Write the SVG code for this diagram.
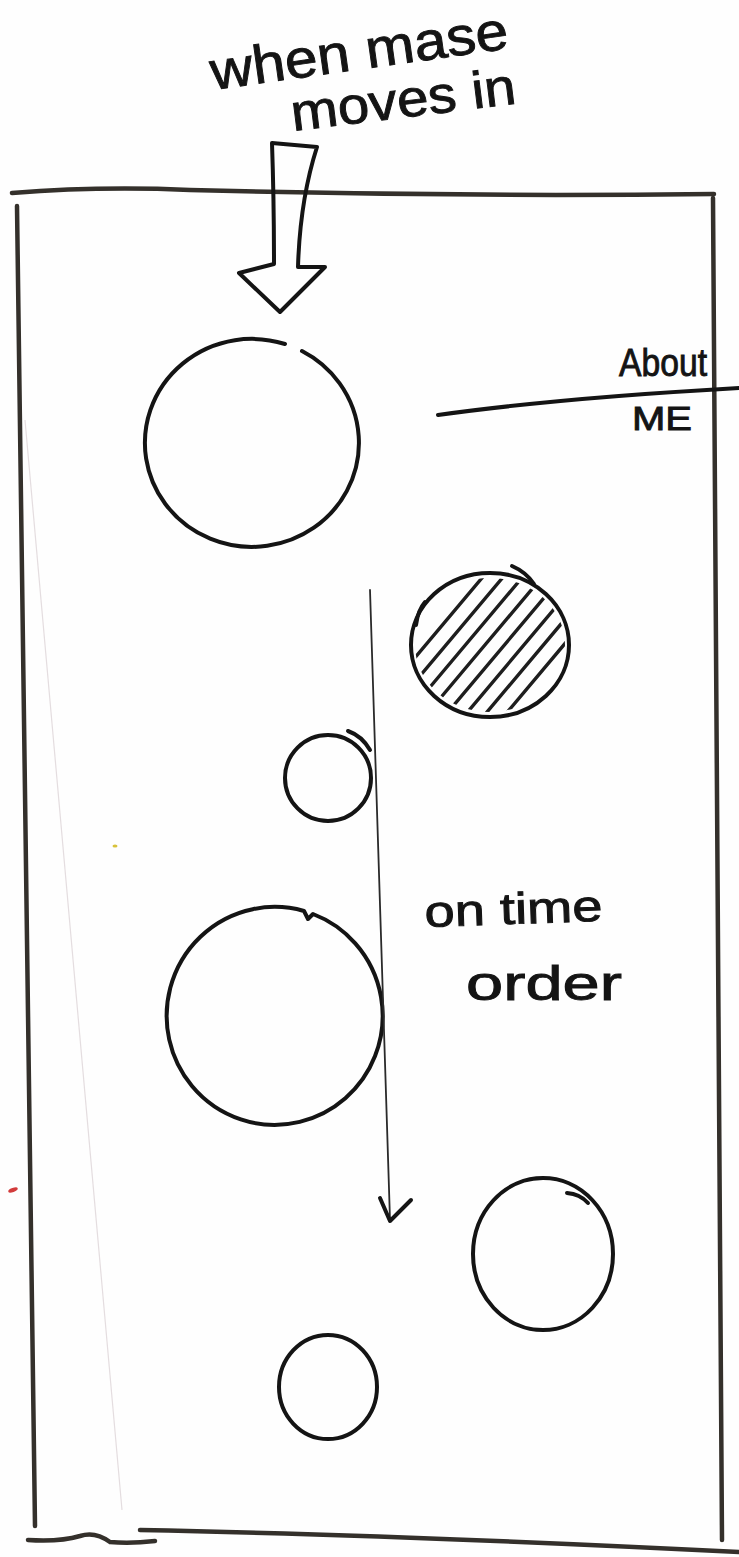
<svg xmlns="http://www.w3.org/2000/svg" width="739" height="1557" viewBox="0 0 739 1557">
  <defs>
    <style>
      .ink { fill: none; stroke: #141414; stroke-width: 4; stroke-linecap: round; stroke-linejoin: round; }
      .frame { fill: none; stroke: #34302b; stroke-width: 4.5; stroke-linecap: round; }
      .thin { fill: none; stroke: #2a2a2a; stroke-width: 1.8; stroke-linecap: round; }
      .hatch { stroke: #1e1e1e; stroke-width: 3.4; stroke-linecap: round; }
      .hand { font-family: "Liberation Sans", "DejaVu Sans", sans-serif; fill: #141414; stroke: #141414; stroke-width: 0.9; }
    </style>
    <clipPath id="hatchClip">
      <ellipse cx="490" cy="645" rx="75" ry="67"/>
    </clipPath>
  </defs>
  <rect width="739" height="1557" fill="#fefefe"/>

  <!-- faint pencil guide -->
  <path d="M25,420 Q70,950 122,1510" fill="none" stroke="#e4dde0" stroke-width="1.2"/>
  <ellipse cx="13" cy="1190" rx="5" ry="2" fill="#d23b3b" transform="rotate(-20 13 1190)"/>
  <ellipse cx="115" cy="846" rx="2.5" ry="1.5" fill="#d8c23a"/>

  <!-- page frame -->
  <g id="frame">
    <path class="frame" d="M12,193 Q100,186 190,190 Q450,197 714,194"/>
    <path class="frame" d="M17,206 Q24,870 35,1526"/>
    <path class="frame" d="M713,198 Q716,860 722,1540"/>
    <path class="frame" d="M140,1530 Q400,1535 739,1552"/>
    <path class="frame" d="M28,1540 Q60,1542 80,1536 Q95,1531 110,1542 Q130,1544 155,1541"/>
  </g>

  <!-- title -->
  <g id="title">
    <text class="hand" x="213" y="90" font-size="54" textLength="300" lengthAdjust="spacingAndGlyphs" transform="rotate(-8 213 90)">when mase</text>
    <text class="hand" x="293" y="131" font-size="52" textLength="226" lengthAdjust="spacingAndGlyphs" transform="rotate(-7 293 131)">moves in</text>
  </g>

  <!-- about me tab -->
  <g id="about-me">
    <path class="ink" d="M438,415 Q560,398 739,388" stroke-width="3.5"/>
    <text class="hand" x="619" y="376" font-size="38" textLength="88" lengthAdjust="spacingAndGlyphs">About</text>
    <text class="hand" x="632" y="430" font-size="34" textLength="60" lengthAdjust="spacingAndGlyphs">ME</text>
  </g>

  <!-- circles -->
  <g id="circle-1">
    <path class="ink" d="M302,351 A107,104 0 1,1 285,344"/>
  </g>
  <g id="circle-hatched">
    <g clip-path="url(#hatchClip)">
      <line class="hatch" x1="397" y1="679" x2="550" y2="497"/>
      <line class="hatch" x1="409" y1="689" x2="562" y2="507"/>
      <line class="hatch" x1="420" y1="699" x2="573" y2="517"/>
      <line class="hatch" x1="432" y1="708" x2="585" y2="526"/>
      <line class="hatch" x1="443" y1="718" x2="596" y2="536"/>
      <line class="hatch" x1="455" y1="727" x2="608" y2="545"/>
      <line class="hatch" x1="466" y1="737" x2="619" y2="555"/>
      <line class="hatch" x1="478" y1="747" x2="631" y2="565"/>
    </g>
    <ellipse class="ink" cx="490" cy="645" rx="79" ry="72"/>
    <path class="ink" d="M512,566 Q526,572 534,584" stroke-width="3"/>
    <path class="ink" d="M416,625 Q418,610 425,602" stroke-width="2.5"/>
  </g>
  <g id="circle-small-1">
    <ellipse class="ink" cx="328" cy="778" rx="43" ry="43"/>
    <path class="ink" d="M348,731 Q362,736 370,750" stroke-width="3.5"/>
  </g>
  <g id="circle-2">
    <path class="ink" d="M304,911 L308,919 L313,914 A108,109 0 1,1 304,911"/>
  </g>
  <g id="circle-3">
    <ellipse class="ink" cx="543" cy="1254" rx="70" ry="76"/>
    <path class="ink" d="M567,1193 Q580,1194 588,1203" stroke-width="3.5"/>
  </g>
  <g id="circle-small-2">
    <ellipse class="ink" cx="328" cy="1387" rx="49" ry="52"/>
  </g>

  <!-- connectors -->
  <g id="connectors">
    <path class="ink" stroke-width="3" d="M272,143 L317,147 Q300,200 298,267 L325,267 L280,312 L239,273 L274,264 Q274,200 272,143 Z"/>
    <path class="thin" d="M370,590 Q380,900 390,1220"/>
    <path class="ink" stroke-width="3" d="M380,1198 L390,1221 L411,1200"/>
  </g>

  <!-- timeline label -->
  <g id="time-label">
    <text class="hand" x="425" y="927" font-size="44" textLength="178" lengthAdjust="spacingAndGlyphs" transform="rotate(-2 425 927)">on time</text>
    <text class="hand" x="466" y="1000" font-size="48" textLength="156" lengthAdjust="spacingAndGlyphs">order</text>
  </g>
</svg>
